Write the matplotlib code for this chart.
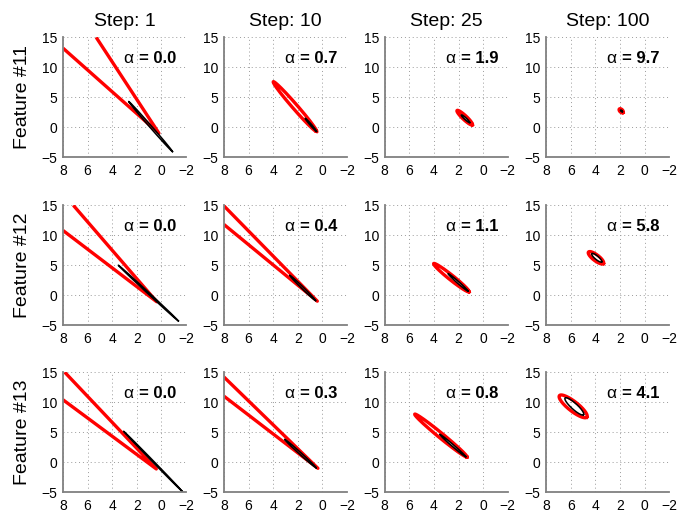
import numpy as np
import matplotlib
matplotlib.use("Agg")
import matplotlib.pyplot as plt

plt.rcParams['font.family'] = ['Liberation Sans', 'DejaVu Sans']

steps = [1, 10, 25, 100]
features = ["Feature #11", "Feature #12", "Feature #13"]
alphas = [[0.0, 0.7, 1.9, 9.7],
          [0.0, 0.4, 1.1, 5.8],
          [0.0, 0.3, 0.8, 4.1]]

# red region: either an open wedge (x/y of end, tip, end) or a closed ellipse
# (tip1 x, tip1 y, tip2 x, tip2 y, half width in normalised units)
red_wedge = {
    (0, 0): ([8.0, 0.2, 5.3], [13.2, -1.0, 15.0]),
    (1, 0): ([8.0, 0.38, 7.16], [10.8, -1.1, 15.0]),
    (2, 0): ([8.0, 0.41, 7.86], [10.4, -1.15, 15.0]),
    (1, 1): ([8.0, 0.41, 8.0], [11.8, -1.0, 14.9]),
    (2, 1): ([8.0, 0.36, 8.0], [11.0, -1.04, 14.2]),
}
red_ell = {
    (0, 1): (3.99, 7.6, 0.47, -0.7, 0.02),
    (0, 2): (2.12, 2.8, 0.87, 0.39, 0.017),
    (0, 3): (2.05, 3.05, 1.75, 2.45, 0.012),
    (1, 2): (4.02, 5.28, 1.14, 0.56, 0.02),
    (1, 3): (4.56, 7.2, 3.34, 5.28, 0.025),
    (2, 2): (5.56, 8.0, 1.31, 0.85, 0.02),
    (2, 3): (6.92, 11.1, 4.69, 7.5, 0.04),
}
black_ell = {
    (0, 0): (2.66, 4.3, -0.9, -4.06, 0.008),
    (0, 1): (1.4, 1.5, 0.47, -0.7, 0.006),
    (0, 2): (1.77, 2.05, 1.09, 0.78, 0.008),
    (0, 3): (1.95, 2.85, 1.8, 2.6, 0.005),
    (1, 0): (3.5, 5.0, -1.38, -4.3, 0.006),
    (1, 1): (2.66, 3.33, 0.55, -0.9, 0.008),
    (1, 2): (2.85, 3.6, 1.22, 0.67, 0.008),
    (1, 3): (4.29, 6.94, 3.48, 5.56, 0.015),
    (2, 0): (3.07, 5.14, -1.7, -4.9, 0.005),
    (2, 1): (3.07, 3.8, 0.5, -0.95, 0.008),
    (2, 2): (3.53, 4.64, 1.41, 0.9, 0.008),
    (2, 3): (6.46, 10.7, 4.96, 7.9, 0.025),
}

XS, YS = 10.0, 20.0  # axis ranges used to normalise


def ellipse_pts(x1, y1, x2, y2, w):
    p1 = np.array([x1 / XS, y1 / YS])
    p2 = np.array([x2 / XS, y2 / YS])
    c = (p1 + p2) / 2
    u = (p2 - p1) / 2
    n = np.array([-u[1], u[0]]) / np.linalg.norm(u)
    t = np.linspace(0, 2 * np.pi, 200)
    pts = c[None, :] + np.cos(t)[:, None] * u + np.sin(t)[:, None] * w * n
    return pts[:, 0] * XS, pts[:, 1] * YS


fig = plt.figure(figsize=(6.87, 5.12), dpi=100)
lefts = [0.0917, 0.326, 0.560, 0.795]
bottoms = [0.693, 0.365, 0.039]
spine_c = '#808080'

for r in range(3):
    for c in range(4):
        ax = fig.add_axes([lefts[c], bottoms[r], 0.179, 0.234])
        ax.set_xlim(8, -2)
        ax.set_ylim(-5, 15)
        ax.set_xticks([8, 6, 4, 2, 0, -2])
        ax.set_yticks([-5, 0, 5, 10, 15])
        ax.tick_params(length=0, labelsize=10)
        ax.tick_params(axis='x', pad=5)
        ax.tick_params(axis='y', pad=4)
        ax.grid(True, linestyle=(0, (1, 3)), color='#9a9a9a', linewidth=0.7)
        ax.set_axisbelow(True)
        for s in ['top', 'right']:
            ax.spines[s].set_visible(False)
        for s in ['left', 'bottom']:
            ax.spines[s].set_color(spine_c)
            ax.spines[s].set_linewidth(1.3)

        if (r, c) in red_wedge:
            xs, ys = red_wedge[(r, c)]
            ax.plot(xs, ys, color='#ff0000', lw=2.4, solid_joinstyle='round',
                    solid_capstyle='butt')
        if (r, c) in red_ell:
            ex, ey = ellipse_pts(*red_ell[(r, c)])
            ax.plot(ex, ey, color='#ff0000', lw=2.4)
        if (r, c) in black_ell:
            ex, ey = ellipse_pts(*black_ell[(r, c)])
            ax.plot(ex, ey, color='black', lw=1.1)

        t1 = ax.text(0.925, 0.825, "= %.1f" % alphas[r][c], transform=ax.transAxes,
                     ha='right', va='center', fontsize=12, fontweight='bold')
        ax.annotate("α ", xy=(0, 0.5), xycoords=t1, ha='right', va='center',
                    fontsize=12.5)

        if r == 0:
            ax.set_title("Step: %d" % steps[c], fontsize=14, pad=8)
        if c == 0:
            fig.text(0.033, bottoms[r] + 0.117, features[r], rotation=90,
                     ha='center', va='center', fontsize=14)

fig.savefig("out.png", dpi=100, facecolor='white')
